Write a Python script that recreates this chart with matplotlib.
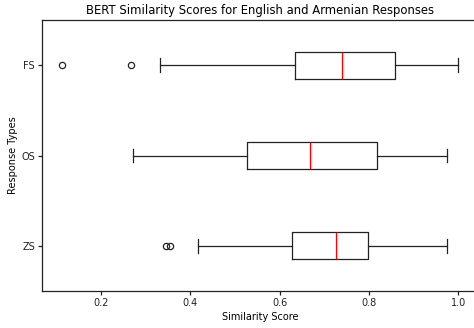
import matplotlib
matplotlib.use("Agg")
import matplotlib.pyplot as plt

# response types, bottom to top
labels = ["ZS", "OS", "FS"]

# five-number summaries per response type
whisker_low = [0.418, 0.273, 0.333]
q1 = [0.628, 0.528, 0.634]
median = [0.726, 0.668, 0.739]
q3 = [0.797, 0.817, 0.859]
whisker_high = [0.975, 0.975, 1.0]
outliers = [[0.345, 0.355], [], [0.113, 0.268]]

stats = []
for i, name in enumerate(labels):
    stats.append({
        "label": name,
        "whislo": whisker_low[i],
        "q1": q1[i],
        "med": median[i],
        "q3": q3[i],
        "whishi": whisker_high[i],
        "fliers": outliers[i],
    })

fig = plt.figure(figsize=(4.74, 3.28), dpi=100)
ax = fig.add_axes([0.0893, 0.1128, 0.919, 0.8262])

lw = 0.9
ax.bxp(stats, orientation="horizontal", widths=0.3,
       boxprops=dict(linewidth=lw, color="#222222"),
       whiskerprops=dict(linewidth=lw, color="#222222"),
       capprops=dict(linewidth=lw, color="#222222"),
       medianprops=dict(color="red", linewidth=lw),
       flierprops=dict(marker="o", markersize=4.5, markeredgewidth=lw,
                       markeredgecolor="#222222", markerfacecolor="none"))

ax.set_xlim(0.069, 1.044)
ax.set_ylim(0.5, 3.5)
ax.set_xticks([0.2, 0.4, 0.6, 0.8, 1.0])
ax.tick_params(labelsize=7.0, width=lw, length=2.6, pad=2.6, colors="#222222")
for s in ax.spines.values():
    s.set_linewidth(lw)
    s.set_color("#222222")

ax.set_title("BERT Similarity Scores for English and Armenian Responses",
             fontsize=8.4, pad=4.2)
ax.set_xlabel("Similarity Score", fontsize=7.0, labelpad=2.6)
ax.set_ylabel("Response Types", fontsize=7.0, labelpad=2.6)

fig.savefig("out.png", dpi=100)
